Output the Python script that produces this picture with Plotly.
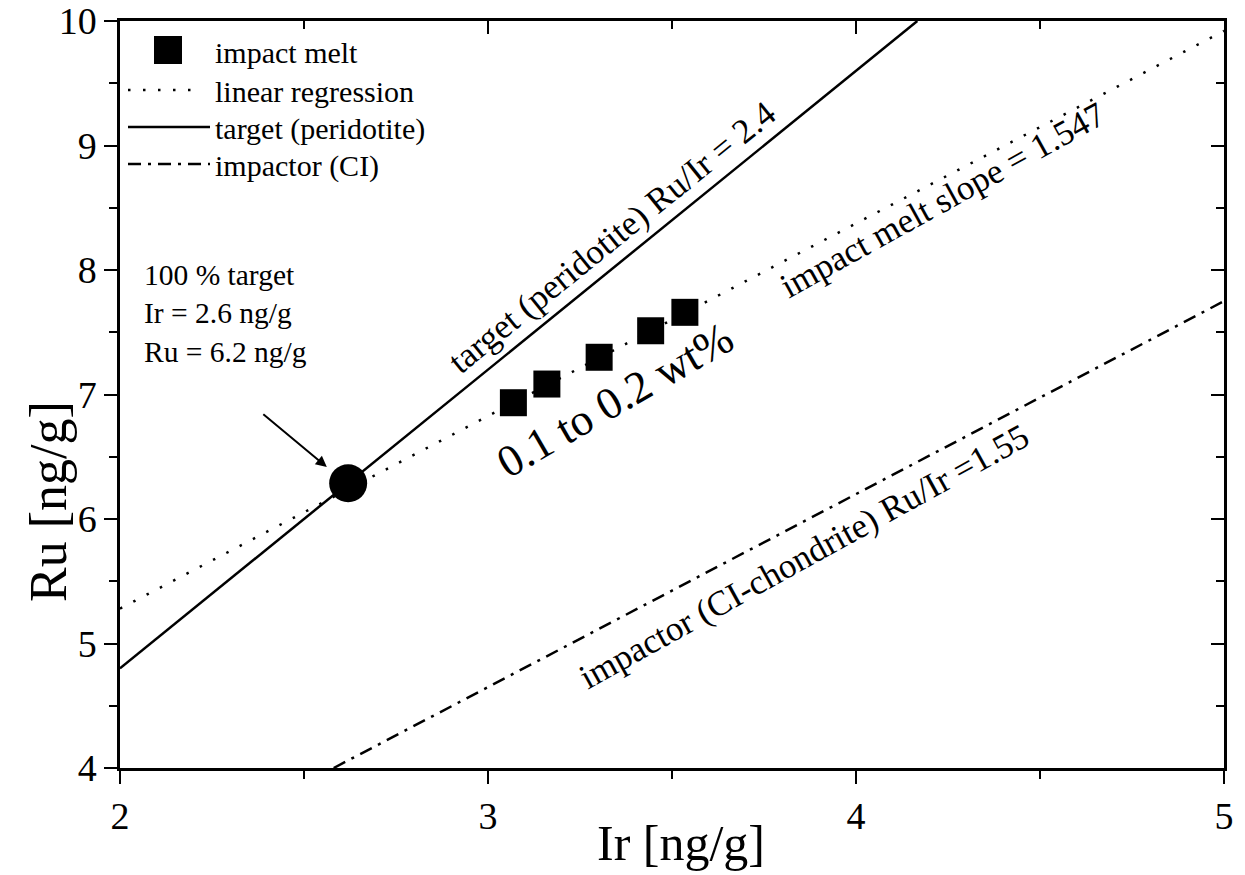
import plotly.graph_objects as go

# ---------------- data ----------------
ir_melt = [3.069, 3.160, 3.302, 3.442, 3.535]
ru_melt = [6.934, 7.084, 7.299, 7.512, 7.660]

ir_target = [2.62]
ru_target = [6.287]

reg_slope = 1.547
reg_intercept = 2.186
reg_x = [2.0, 5.0]
reg_y = [reg_slope * x + reg_intercept for x in reg_x]

target_ratio = 2.4
target_x = [2.0, 10.0 / target_ratio]
target_y = [target_ratio * x for x in target_x]

impactor_ratio = 1.55
impactor_x = [4.0 / impactor_ratio, 5.0]
impactor_y = [impactor_ratio * x for x in impactor_x]

x_ticks = [2, 3, 4, 5]
y_ticks = [4, 5, 6, 7, 8, 9, 10]

FONT = "Liberation Serif"
BLACK = "black"
DOT = "2.5px,12.5px"
DASHDOT = "13px,7px,3px,7px"

# page body adds an 8px margin; compensate so the plot lands where the reference has it
OFF = 8

fig = go.Figure()

fig.add_trace(go.Scatter(x=reg_x, y=reg_y, mode="lines",
                         line=dict(color=BLACK, width=2.5, dash=DOT),
                         showlegend=False, hoverinfo="skip"))
fig.add_trace(go.Scatter(x=target_x, y=target_y, mode="lines",
                         line=dict(color=BLACK, width=2.5),
                         showlegend=False, hoverinfo="skip"))
fig.add_trace(go.Scatter(x=impactor_x, y=impactor_y, mode="lines",
                         line=dict(color=BLACK, width=2.5, dash=DASHDOT),
                         showlegend=False, hoverinfo="skip"))
fig.add_trace(go.Scatter(x=ir_melt, y=ru_melt, mode="markers",
                         marker=dict(symbol="square", size=27, color=BLACK),
                         showlegend=False))
fig.add_trace(go.Scatter(x=ir_target, y=ru_target, mode="markers",
                         marker=dict(symbol="circle", size=38, color=BLACK),
                         showlegend=False))
# dummy trace to hold the mirror axes
fig.add_trace(go.Scatter(x=[None], y=[None], xaxis="x2", yaxis="y2",
                         showlegend=False, hoverinfo="skip"))

# ---------------- axes ----------------
common = dict(showgrid=False, zeroline=False, showline=True, linecolor=BLACK,
              linewidth=2.5, tickcolor=BLACK, tickwidth=2, automargin=False)

fig.update_layout(
    width=1245 - OFF, height=875 - OFF,
    margin=dict(l=120 - OFF, r=21, t=21 - OFF, b=107),
    paper_bgcolor="white", plot_bgcolor="white",
    showlegend=False,
    xaxis=dict(range=[2, 5], tickvals=x_ticks, ticks="outside", ticklen=13,
               tickfont=dict(family=FONT, size=38, color=BLACK),
               ticklabeloverflow="allow",
               minor=dict(dtick=0.5, tick0=2, ticks="outside", ticklen=8,
                          tickwidth=2, tickcolor=BLACK, showgrid=False),
               **common),
    yaxis=dict(range=[4, 10], tickvals=y_ticks, ticks="outside", ticklen=13,
               tickfont=dict(family=FONT, size=38, color=BLACK),
               ticklabeloverflow="allow",
               minor=dict(dtick=0.5, tick0=4, ticks="outside", ticklen=8,
                          tickwidth=2, tickcolor=BLACK, showgrid=False),
               **common),
    xaxis2=dict(range=[2, 5], overlaying="x", side="top", anchor="y2",
                tickvals=x_ticks, ticks="inside", ticklen=13, showticklabels=False,
                minor=dict(dtick=0.5, tick0=2, ticks="inside", ticklen=8,
                           tickwidth=2, tickcolor=BLACK, showgrid=False),
                **common),
    yaxis2=dict(range=[4, 10], overlaying="y", side="right", anchor="x2",
                tickvals=y_ticks, ticks="inside", ticklen=13, showticklabels=False,
                minor=dict(dtick=0.5, tick0=4, ticks="inside", ticklen=8,
                           tickwidth=2, tickcolor=BLACK, showgrid=False),
                **common),
)

# ---------------- helpers (screen pixel -> paper) ----------------
L, R, T, B = 120, 1224, 21, 768
def px(xp):
    return (xp - L) / (R - L)
def py(yp):
    return (B - yp) / (B - T)

# ---------------- manual legend ----------------
shapes = []
shapes.append(dict(type="rect", xref="paper", yref="paper",
                   x0=px(154), x1=px(182), y0=py(64), y1=py(36),
                   fillcolor=BLACK, line=dict(width=0)))
shapes.append(dict(type="line", xref="paper", yref="paper",
                   x0=px(128), x1=px(200), y0=py(90), y1=py(90),
                   line=dict(color=BLACK, width=2.5, dash=DOT)))
shapes.append(dict(type="line", xref="paper", yref="paper",
                   x0=px(128), x1=px(210), y0=py(127), y1=py(127),
                   line=dict(color=BLACK, width=2.5)))
shapes.append(dict(type="line", xref="paper", yref="paper",
                   x0=px(128), x1=px(210), y0=py(164), y1=py(164),
                   line=dict(color=BLACK, width=2.5, dash=DASHDOT)))
fig.update_layout(shapes=shapes)

def ann(text, x, y, size, angle=0, xanchor="center", yanchor="middle", align="center"):
    fig.add_annotation(text=text, xref="paper", yref="paper", x=px(x), y=py(y),
                       xanchor=xanchor, yanchor=yanchor, align=align,
                       textangle=angle, showarrow=False,
                       font=dict(family=FONT, size=size, color=BLACK))

legend_labels = ["impact melt", "linear regression", "target (peridotite)", "impactor (CI)"]
legend_y = [53, 91, 129, 166]
for lab, yy in zip(legend_labels, legend_y):
    ann(lab, 213, yy, 30, xanchor="left")

# ---------------- annotations ----------------
ann("100 % target<br>Ir = 2.6 ng/g<br>Ru = 6.2 ng/g", 142, 257, 29.5,
    xanchor="left", yanchor="top", align="left")

fig.add_annotation(x=ir_target[0] - 0.058, y=ru_target[0] + 0.13, xref="x", yref="y",
                   ax=-65, ay=-54, showarrow=True, arrowhead=2, arrowsize=1.1,
                   arrowwidth=2, arrowcolor=BLACK, text="")

ann("target (peridotite) Ru/Ir = 2.4", 612, 238, 35, angle=-39)
ann("impact melt slope = 1.547", 942, 200, 35, angle=-29)
ann("impactor (CI-chondrite) Ru/Ir =1.55", 804, 556, 35, angle=-29)
ann("0.1 to 0.2 wt%", 615, 400, 45, angle=-30)

# axis titles
ann("Ir [ng/g]", 681, 843, 50)
ann("Ru [ng/g]", 48, 502, 52, angle=-90)

fig.write_html("out.html")
